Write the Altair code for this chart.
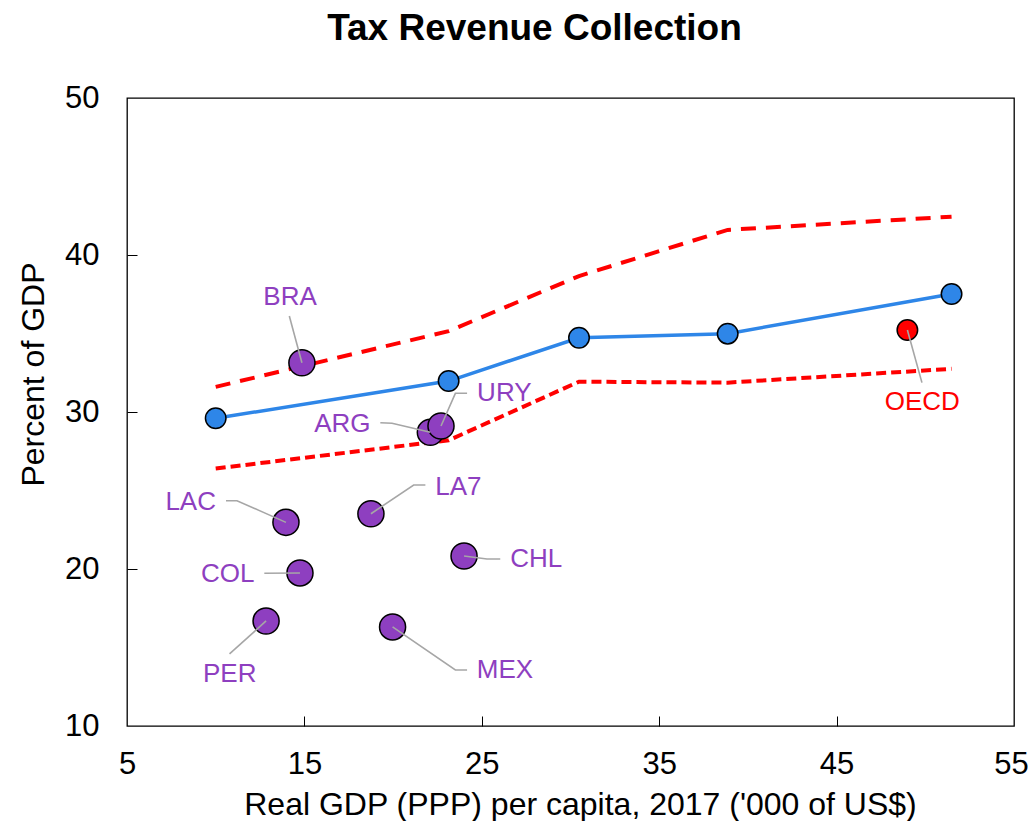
import altair as alt
import pandas as pd

# ---- data ----
band_x = [10.0, 23.13, 30.48, 38.86, 51.48]
avg_y = [29.6, 31.97, 34.73, 34.99, 37.52]
upper_y = [31.6, 35.15, 38.66, 41.6, 42.44]
lower_y = [26.4, 28.2, 31.93, 31.87, 32.75]

countries = ["BRA", "ARG", "URY", "LAC", "LA7", "CHL", "COL", "PER", "MEX"]
country_x = [14.86, 22.10, 22.70, 13.96, 18.75, 24.00, 14.75, 12.84, 19.97]
country_y = [33.14, 28.71, 29.11, 22.97, 23.52, 20.83, 19.75, 16.69, 16.31]

oecd_name = ["OECD"]
oecd_x = [48.99]
oecd_y = [35.22]

label_names = countries + oecd_name
label_x = [14.19, 17.14, 26.27, 8.59, 23.68, 28.07, 10.68, 10.79, 26.31, 49.83]
label_y = [37.34, 29.24, 31.21, 24.29, 25.24, 20.62, 19.68, 13.31, 13.57, 30.62]

lead_start_x = [14.15, 19.28, 24.17, 10.58, 21.82, 26.04, 12.74, 10.78, 24.17, 49.81]
lead_start_y = [36.11, 29.32, 31.19, 24.35, 25.35, 20.64, 19.73, 14.59, 13.57, 31.87]
lead_mid_x = [14.15, 19.94, 23.51, 11.20, 21.16, 25.29, 12.74, 10.78, 23.51, 49.81]
lead_mid_y = [36.11, 29.28, 31.19, 24.35, 25.35, 20.64, 19.73, 14.59, 13.57, 31.87]

x_ticks = [5, 15, 25, 35, 45, 55]
y_ticks = [10, 20, 30, 40, 50]

PURPLE = "#8E3FC0"
BLUE = "#2E86E8"
RED = "#FF0000"
FONT = "Liberation Sans"

band = pd.DataFrame({"x": band_x, "avg": avg_y, "upper": upper_y, "lower": lower_y})
pts = pd.DataFrame({"name": countries, "x": country_x, "y": country_y})
oecd = pd.DataFrame({"name": oecd_name, "x": oecd_x, "y": oecd_y})
end_x = country_x + oecd_x
end_y = country_y + oecd_y
rows = []
for i, n in enumerate(label_names):
    rows.append({"name": n, "step": 0, "x": lead_start_x[i], "y": lead_start_y[i]})
    rows.append({"name": n, "step": 1, "x": lead_mid_x[i], "y": lead_mid_y[i]})
    rows.append({"name": n, "step": 2, "x": end_x[i], "y": end_y[i]})
leaders = pd.DataFrame(rows)
labels = pd.DataFrame({
    "name": label_names, "x": label_x, "y": label_y,
    "col": [PURPLE] * len(countries) + [RED],
})

xs = alt.Scale(domain=[5, 55], nice=False, zero=False)
ys = alt.Scale(domain=[10, 50], nice=False, zero=False)

main_x_axis = alt.Axis(
    values=x_ticks, orient="bottom", ticks=False, tickSize=0, domain=False, grid=False,
    labelPadding=23, labelFontSize=31, labelFont=FONT, labelColor="black",
    labelFlush=False, labelOverlap=False,
    labelOffset={"condition": {"test": "datum.value === 55", "value": -3}, "value": 0},
    title="Real GDP (PPP) per capita, 2017 ('000 of US$)", titleFontSize=32,
    titleFont=FONT, titleFontWeight="normal", titleColor="black",
    titleX=453, titleY=88, titleBaseline="alphabetic", titleAlign="center",
)
main_y_axis = alt.Axis(
    values=y_ticks, orient="left", ticks=False, tickSize=0, domain=False, grid=False,
    labelPadding=28, labelFontSize=31, labelFont=FONT, labelColor="black",
    labelFlush=False, labelOverlap=False,
    title="Percent of GDP", titleFontSize=32, titleFont=FONT,
    titleFontWeight="normal", titleColor="black",
    titleX=-84, titleY=276, titleBaseline="alphabetic", titleAlign="center", titleAngle=270,
)
inner_x_axis = alt.Axis(
    values=[15, 25, 35, 45], orient="top", offset=-628, labels=False, domain=False,
    grid=False, ticks=True, tickSize=10, tickColor="black", tickWidth=1, title=None,
)
inner_y_axis = alt.Axis(
    values=[20, 30, 40], orient="right", offset=-887, labels=False, domain=False,
    grid=False, ticks=True, tickSize=10, tickColor="black", tickWidth=1, title=None,
)

base_band = alt.Chart(band)

upper = base_band.mark_line(color=RED, strokeWidth=4, strokeDash=[15, 10]).encode(
    x=alt.X("x:Q", scale=xs, axis=inner_x_axis),
    y=alt.Y("upper:Q", scale=ys, axis=inner_y_axis),
)
lower = base_band.mark_line(color=RED, strokeWidth=4, strokeDash=[10, 5]).encode(
    x=alt.X("x:Q", scale=xs, axis=None),
    y=alt.Y("lower:Q", scale=ys, axis=None),
)
avg_line = base_band.mark_line(color=BLUE, strokeWidth=3.5).encode(
    x=alt.X("x:Q", scale=xs, axis=main_x_axis),
    y=alt.Y("avg:Q", scale=ys, axis=main_y_axis),
)
avg_pts = base_band.mark_point(
    shape="circle", filled=True, fill=BLUE, stroke="black", strokeWidth=1.5,
    size=420, opacity=1,
).encode(
    x=alt.X("x:Q", scale=xs, axis=None),
    y=alt.Y("avg:Q", scale=ys, axis=None),
)
country_pts = alt.Chart(pts).mark_point(
    shape="circle", filled=True, fill=PURPLE, stroke="black", strokeWidth=1.5,
    size=680, opacity=1,
).encode(
    x=alt.X("x:Q", scale=xs, axis=None),
    y=alt.Y("y:Q", scale=ys, axis=None),
)
oecd_pt = alt.Chart(oecd).mark_point(
    shape="circle", filled=True, fill=RED, stroke="black", strokeWidth=1.5,
    size=420, opacity=1,
).encode(
    x=alt.X("x:Q", scale=xs, axis=None),
    y=alt.Y("y:Q", scale=ys, axis=None),
)
lead = alt.Chart(leaders).mark_line(color="#A6A6A6", strokeWidth=1.6).encode(
    x=alt.X("x:Q", scale=xs, axis=None),
    y=alt.Y("y:Q", scale=ys, axis=None),
    detail="name:N",
    order="step:Q",
)
text = alt.Chart(labels).mark_text(
    font=FONT, fontSize=26, align="center", baseline="middle",
).encode(
    x=alt.X("x:Q", scale=xs, axis=None),
    y=alt.Y("y:Q", scale=ys, axis=None),
    text="name:N",
    color=alt.Color("col:N", scale=None),
)

chart = alt.layer(
    upper, lower, avg_line, avg_pts, country_pts, oecd_pt, lead, text
).resolve_axis(
    x="independent", y="independent"
).properties(
    width=887, height=628,
    autosize=alt.AutoSizeParams(type="none"),
    padding={"left": 119, "top": 90, "right": 14, "bottom": 95},
    title=alt.Title(
        "Tax Revenue Collection", fontSize=37, fontWeight="bold", font=FONT,
        color="black", anchor="middle", baseline="alphabetic", offset=5, dx=-36,
    ),
).configure_view(stroke="black", strokeWidth=1.3)

chart.save("out.html", embed_options={"renderer": "svg", "actions": False})
